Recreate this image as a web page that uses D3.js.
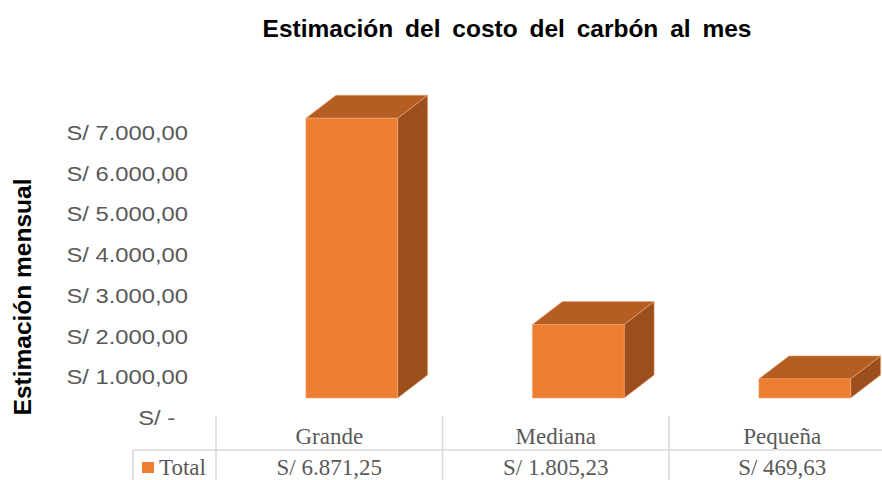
<!DOCTYPE html>
<html>
<head>
<meta charset="utf-8">
<title>Estimación del costo del carbón al mes</title>
<style>
body { margin: 0; background: #fff; }
svg { display: block; }
.ylab text { font-family: "Liberation Sans", Arial, sans-serif; font-size: 20.5px; fill: #595959; }
.tbl { font-family: "Liberation Serif", "Times New Roman", serif; font-size: 23px; fill: #595959; }
</style>
<script src="https://cdn.jsdelivr.net/npm/d3@7"></script>
</head>
<body>
<svg id="chart" width="882" height="480"></svg>
<script>
// data
const categories = ["Grande", "Mediana", "Pequeña"];
const totals = [6871.25, 1805.23, 469.63];
const totalLabels = ["S/ 6.871,25", "S/ 1.805,23", "S/ 469,63"];
const yTicks = [0, 1000, 2000, 3000, 4000, 5000, 6000, 7000];
const seriesName = "Total";

const svg = d3.select("#chart");
const W = 882, H = 480;

// colours of the 3d column
const front = "#ED7D31", topC = "#B55E23", side = "#9A4F1D";
const gridC = "#D9D9D9";

// scales
const x = d3.scaleBand().domain(categories).range([216, 216 + 3 * 226.5]);
const y = d3.scaleLinear().domain([0, 7000]).range([418, 133]);
const lift = 20;          // front face sits above the axis labels
const dx = 30, dy = 23;   // depth of the 3d bars

// title
svg.append("text")
  .attr("x", 507).attr("y", 37)
  .attr("text-anchor", "middle")
  .style("font-family", "'Liberation Sans', Arial, sans-serif")
  .style("font-weight", "bold").style("font-size", "24.5px")
  .style("word-spacing", "5px")
  .text("Estimación del costo del carbón al mes");

// y axis title
svg.append("text")
  .attr("transform", "translate(31,297) rotate(-90)")
  .attr("text-anchor", "middle")
  .style("font-family", "'Liberation Sans', Arial, sans-serif")
  .style("font-weight", "bold").style("font-size", "24.5px")
  .text("Estimación mensual");

// y axis labels
const fmt = d3.formatLocale({ decimal: ",", thousands: ".", grouping: [3], currency: ["S/ ", ""] }).format("$,.2f");
const yAxis = svg.append("g").attr("class", "ylab")
  .attr("transform", "translate(188,0)")
  .call(d3.axisLeft(y).tickValues(yTicks).tickSize(0).tickPadding(0)
    .tickFormat(d => d === 0 ? "S/ -" : fmt(d)));
yAxis.select(".domain").remove();
yAxis.selectAll("text").style("font-family", null).style("font-size", null)
  .attr("fill", null)
  .attr("x", d => d === 0 ? -11 : 0)
  .attr("transform", "scale(1.16,1)");

// 3d bars
const bars = svg.append("g");
categories.forEach((c, i) => {
  const bw = x.bandwidth() * 0.405;
  const x0 = x(c) + x.bandwidth() * 0.397;
  const x1 = x0 + bw;
  const yb = y(0) - lift;
  const yt = y(totals[i]) - lift;
  const g = bars.append("g");
  g.append("polygon")
    .attr("points", [[x1, yt], [x1 + dx, yt - dy], [x1 + dx, yb - dy], [x1, yb]].join(" "))
    .attr("fill", side);
  g.append("polygon")
    .attr("points", [[x0, yt], [x0 + dx, yt - dy], [x1 + dx, yt - dy], [x1, yt]].join(" "))
    .attr("fill", topC);
  g.append("rect")
    .attr("x", x0).attr("y", yt)
    .attr("width", bw).attr("height", yb - yt)
    .attr("fill", front);
  g.selectAll("*").attr("stroke", "#F4A676").attr("stroke-width", 0.6).attr("stroke-linejoin", "round");
});

// data table
const tbl = svg.append("g");
const rowY = 450;
x.domain().forEach(c => {
  tbl.append("line")
    .attr("x1", x(c)).attr("x2", x(c))
    .attr("y1", 416).attr("y2", H)
    .attr("stroke", gridC).attr("stroke-width", 1.5);
});
tbl.append("line")
  .attr("x1", x.range()[1]).attr("x2", x.range()[1])
  .attr("y1", 416).attr("y2", H)
  .attr("stroke", gridC).attr("stroke-width", 1.5);
tbl.append("line")
  .attr("x1", 133).attr("x2", W)
  .attr("y1", rowY).attr("y2", rowY)
  .attr("stroke", gridC).attr("stroke-width", 1.5);
tbl.append("line")
  .attr("x1", 133).attr("x2", 133)
  .attr("y1", rowY).attr("y2", H)
  .attr("stroke", gridC).attr("stroke-width", 1.5);

categories.forEach((c, i) => {
  tbl.append("text").attr("class", "tbl")
    .attr("x", x(c) + x.bandwidth() / 2).attr("y", 444)
    .attr("text-anchor", "middle").text(c);
  tbl.append("text").attr("class", "tbl")
    .attr("x", x(c) + x.bandwidth() / 2).attr("y", 475)
    .attr("text-anchor", "middle").text(totalLabels[i]);
});

// legend key in the table
tbl.append("rect")
  .attr("x", 142).attr("y", 462).attr("width", 12).attr("height", 11)
  .attr("fill", front);
tbl.append("text").attr("class", "tbl")
  .attr("x", 159).attr("y", 475).text(seriesName);
</script>
</body>
</html>
